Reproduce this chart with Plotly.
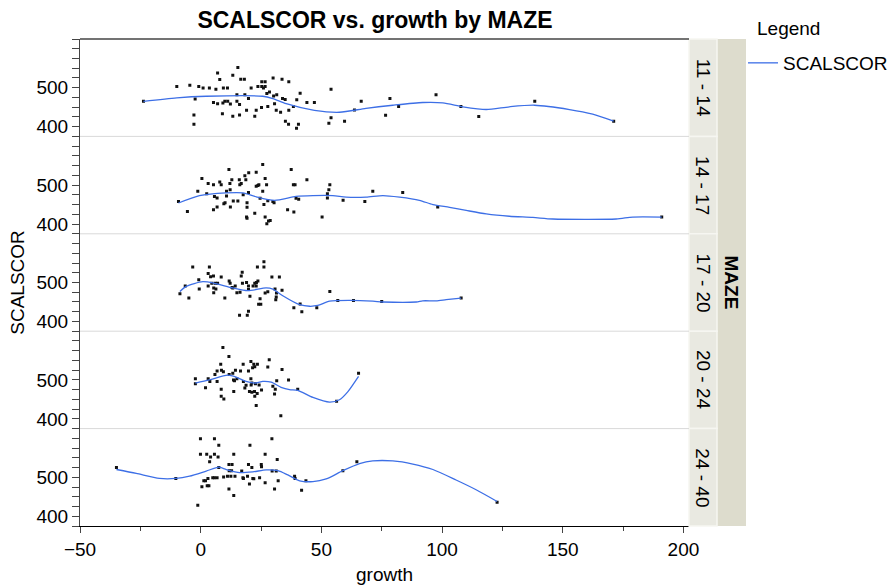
import plotly.graph_objects as go
from plotly.subplots import make_subplots

maze_levels = ["11 - 14", "14 - 17", "17 - 20", "20 - 24", "24 - 40"]

# ---- MAZE 11 - 14
g1_growth = [-23.7, -9.9, -4.5, -0.8, 1.0, 3.6, 6.3, 7.0, 7.9, 9.4, 11.1, 13.3, 15.4, 16.6, 18.1, 20.9, 23.7, 25.3, 26.7, 25.3,
             26.7, 26.0, 30.0, 33.7, 36.5, 27.4, 28.5, 30.2, 31.5, 33.9, 35.0, 41.2, 39.8, 44.0, 47.1, 54.0, 53.1, 54.0, 59.6, 63.7,
             66.5, 76.6, 78.4, 82.0, 97.5, 107.8, 115.2, 138.4, 171.1, -2.3, -2.8, -2.8, 5.3, 7.0, 9.2, 10.0, 11.2, 12.3, 15.0, 15.0,
             16.1, 18.3, 19.8, 19.0, 23.0, 25.2, 27.8, 30.6, 31.3, 33.1, 36.5, 38.4, 9.0, 13.3, 16.1, 22.4, 35.1, 36.4, 40.5, 39.7]
g1_scalscor = [465, 503, 506, 503, 499, 499, 496, 538, 521, 499, 499, 532, 552, 522, 522, 499, 503, 515, 515, 503,
               503, 499, 525, 522, 515, 485, 489, 479, 482, 472, 470, 486, 469, 462, 462, 496, 409, 423, 414, 443,
               465, 429, 472, 452, 482, 452, 426, 465, 414, 471, 430, 406, 462, 459, 461, 465, 465, 458, 482, 465,
               457, 482, 472, 442, 442, 449, 452, 459, 442, 437, 442, 452, 433, 427, 430, 427, 414, 406, 406, 396]
fit1_growth = [-23.7, -9.9, 2.3, 25.7, 29.9, 35.4, 47.1, 57.5, 68.5, 79.6, 92.0, 100.3, 108.6, 118.3, 127.9, 138.3, 152.8, 162.4, 171.1]
fit1_scalscor = [465, 474, 478, 478, 472, 459, 442, 437, 447, 455, 462, 461, 451, 444, 451, 455, 444, 432, 414]

# ---- MAZE 14 - 17
g2_growth = [-9.2, -5.5, -1.2, 0.5, 2.5, 3.1, 5.3, 5.3, 6.8, 5.7, 6.8, 7.9, 8.5, 9.6, 10.1, 10.7, 10.7, 11.7, 12.1, 12.2,
             12.3, 12.9, 13.5, 15.4, 16.0, 16.2, 16.8, 17.6, 18.3, 18.7, 19.0, 19.2, 19.2, 19.2, 19.9, 19.8, 22.4, 23.0, 23.0, 23.7,
             24.1, 24.6, 25.7, 25.7, 26.2, 26.7, 27.3, 26.7, 27.4, 28.1, 28.8, 27.8, 29.9, 30.4, 36.0, 37.5, 38.4, 39.1, 38.6, 39.5,
             40.6, 44.0, 50.3, 52.5, 52.5, 53.1, 53.5, 59.0, 68.0, 71.3, 83.7, 98.2, 191.0]
g2_scalscor = [458, 432, 484, 517, 478, 504, 501, 437, 444, 471, 467, 508, 501, 452, 455, 472, 484, 540, 504, 488,
               444, 514, 459, 459, 514, 501, 504, 475, 524, 514, 418, 415, 455, 443, 532, 481, 428, 533, 497, 499,
               501, 466, 553, 484, 450, 517, 501, 418, 401, 408, 409, 460, 458, 455, 437, 540, 501, 501, 431, 466,
               464, 514, 418, 478, 467, 488, 501, 461, 458, 484, 481, 444, 418]
fit2_growth = [-9.2, -0.5, 10.5, 17.5, 23.0, 30.6, 39.5, 46.5, 54.7, 60.3, 68.5, 75.5, 82.4, 90.6, 96.2, 103.1, 110.0, 118.3,
               127.9, 137.6, 145.9, 172.1, 179.0, 191.0]
fit2_scalscor = [454, 473, 480, 480, 470, 461, 471, 473, 473, 469, 469, 473, 469, 461, 450, 443, 435, 426, 420, 417, 413, 413, 418, 418]

# ---- MAZE 17 - 20
g3_growth = [-8.6, -6.4, -4.9, -3.3, -0.8, -0.6, 3.1, 3.6, 3.1, 4.1, 5.3, 4.6, 6.0, 5.4, 6.3, 7.0, 5.4, 8.5, 10.0, 11.8,
             12.2, 13.0, 13.3, 14.3, 15.0, 16.3, 16.8, 17.2, 17.3, 16.1, 19.3, 19.8, 19.0, 19.8, 19.8, 20.4, 21.7, 22.4, 23.1, 23.0,
             23.7, 23.5, 26.2, 26.2, 24.6, 24.0, 24.9, 26.7, 27.8, 29.5, 32.6, 30.8, 31.4, 31.3, 31.1, 33.7, 38.6, 41.2, 41.9, 48.1,
             53.5, 56.8, 63.3, 75.0, 107.9]
g3_scalscor = [471, 491, 460, 540, 507, 483, 523, 540, 491, 515, 517, 498, 498, 486, 483, 498, 474, 514, 460, 504,
               498, 487, 486, 491, 474, 475, 517, 526, 498, 416, 416, 426, 500, 491, 482, 465, 491, 498, 500, 491,
               504, 540, 540, 553, 458, 444, 444, 473, 476, 514, 514, 483, 473, 463, 456, 480, 435, 445, 425, 435,
               477, 454, 454, 451, 460]
fit3_growth = [-8.6, -6.0, 0.9, 5.7, 13.3, 19.5, 27.1, 29.9, 34.0, 41.0, 45.1, 48.5, 53.4, 61.6, 71.3, 75.5, 89.3, 92.0, 97.5, 101.7, 107.9]
fit3_scalscor = [477, 490, 502, 498, 486, 479, 486, 483, 466, 443, 439, 441, 452, 454, 452, 450, 450, 453, 453, 456, 460]

# ---- MAZE 20 - 24
g4_growth = [-2.2, -2.2, 2.0, 3.1, 3.8, 5.9, 6.8, 6.8, 8.3, 8.6, 9.4, 8.5, 8.5, 9.6, 9.2, 11.7, 11.8, 13.3, 13.6, 14.0,
             15.0, 13.7, 14.4, 16.5, 17.6, 17.7, 18.3, 18.8, 19.8, 20.8, 20.8, 20.9, 21.5, 22.0, 22.4, 23.5, 21.2, 22.7, 24.2, 20.2,
             21.2, 22.3, 23.4, 22.4, 25.2, 23.0, 27.8, 28.4, 29.9, 30.9, 30.6, 31.5, 33.7, 36.4, 33.2, 40.2, 56.3, 65.4]
g4_scalscor = [503, 490, 480, 503, 496, 514, 496, 523, 540, 525, 521, 476, 458, 451, 583, 560, 514, 517, 500, 498,
               503, 470, 525, 523, 540, 496, 479, 486, 523, 547, 503, 487, 531, 540, 534, 540, 492, 490, 487, 470,
               468, 470, 465, 458, 474, 434, 533, 552, 484, 476, 464, 498, 527, 500, 408, 476, 445, 517]
fit4_growth = [-2.2, 3.6, 11.2, 14.7, 18.8, 23.0, 25.7, 29.2, 33.3, 36.8, 40.2, 46.5, 53.4, 57.5, 61.0, 65.4]
fit4_scalscor = [492, 500, 512, 507, 496, 492, 496, 494, 481, 475, 473, 455, 443, 449, 470, 509]

# ---- MAZE 24 - 40
g5_growth = [-34.9, -10.3, -1.2, -0.1, 5.7, -0.1, 2.5, 4.1, 5.7, 7.5, 7.2, 3.7, 7.5, 1.3, 2.0, 0.5, 2.7, 3.4, 3.0, 5.0,
             5.7, 6.8, 9.5, 11.1, 12.5, 14.2, 11.7, 13.0, 11.8, 12.8, 13.7, 11.7, 13.7, 17.0, 17.5, 17.7, 19.4, 19.8, 20.4, 21.2,
             21.6, 22.0, 20.2, 24.4, 25.1, 25.2, 26.7, 26.7, 29.5, 29.6, 30.6, 31.3, 31.7, 32.1, 38.9, 39.1, 41.8, 43.6, 58.9, 64.7,
             122.8]
g5_scalscor = [525, 497, 428, 599, 599, 559, 559, 552, 559, 582, 552, 540, 525, 491, 491, 476, 478, 478, 497, 499,
               499, 499, 501, 503, 503, 503, 533, 533, 517, 517, 559, 470, 453, 516, 499, 497, 503, 533, 582, 525,
               497, 496, 483, 499, 533, 527, 559, 486, 599, 516, 470, 516, 546, 491, 503, 497, 467, 491, 517, 540,
               436]
fit5_growth = [-34.9, -26.7, -17.1, -10.2, -4.6, 2.3, 7.5, 10.6, 16.1, 21.6, 27.1, 32.0, 36.1, 41.0, 46.5, 52.0, 58.9, 65.8,
               71.3, 79.6, 87.9, 96.2, 105.8, 114.1, 122.8]
fit5_scalscor = [520, 510, 497, 497, 503, 516, 526, 520, 512, 514, 519, 517, 506, 491, 489, 496, 517, 535, 542, 542, 534,
                 520, 493, 468, 438]

y_tick_values = [375, 400, 425, 450, 475, 500, 525, 550, 575, 600, 625]
y_tick_labels = ["", "400", "", "", "", "500", "", "", "", "", ""]
x_range = [-50, 202.3]
y_range = [375, 625]

points = [(g1_growth, g1_scalscor), (g2_growth, g2_scalscor), (g3_growth, g3_scalscor),
          (g4_growth, g4_scalscor), (g5_growth, g5_scalscor)]
fits = [(fit1_growth, fit1_scalscor), (fit2_growth, fit2_scalscor), (fit3_growth, fit3_scalscor),
        (fit4_growth, fit4_scalscor), (fit5_growth, fit5_scalscor)]

FONT = "Liberation Sans, Arial, Helvetica, sans-serif"
BLUE = "#3d6fe6"
AXC = "#444444"
PW = 609.0   # plot width in px
PH = 487.0   # plot height in px

fig = make_subplots(rows=5, cols=1, shared_xaxes=True, vertical_spacing=0)

for i in range(5):
    gx, gy = points[i]
    fx, fy = fits[i]
    fig.add_trace(go.Scatter(x=gx, y=gy, mode="markers", showlegend=False, name="data",
                             marker=dict(symbol="square", size=3, color="#111111")), row=i + 1, col=1)
    fig.add_trace(go.Scatter(x=fx, y=fy, mode="lines", name="SCALSCOR", legendgroup="fit",
                             showlegend=(i == 0), line=dict(color=BLUE, width=1.3, shape="spline", smoothing=0.7)),
                  row=i + 1, col=1)

for i in range(5):
    fig.update_yaxes(row=i + 1, col=1, range=y_range, tickmode="array", tickvals=y_tick_values,
                     ticktext=y_tick_labels, ticks="outside", ticklen=7, tickwidth=1, tickcolor=AXC,
                     showline=True, linecolor=AXC, linewidth=1, showgrid=False, zeroline=False,
                     automargin=False,
                     tickfont=dict(family=FONT, size=19, color="black"))
    last = (i == 4)
    fig.update_xaxes(row=i + 1, col=1, range=x_range, showgrid=False, zeroline=False,
                     showline=last, linecolor="black", linewidth=1,
                     ticks="outside" if last else "", showticklabels=last,
                     tickmode="linear", tick0=0, dtick=50, ticklen=6, tickcolor=AXC,
                     automargin=False,
                     minor=dict(dtick=25, ticks="outside" if last else "", ticklen=4, tickcolor=AXC),
                     tickfont=dict(family=FONT, size=19, color="black"))

fig.update_xaxes(row=5, col=1, title=dict(text="growth", font=dict(family=FONT, size=19, color="black"), standoff=8))
fig.update_yaxes(row=3, col=1, title=dict(text="SCALSCOR", font=dict(family=FONT, size=19, color="black"), standoff=6))

shapes = []
# outer strip (MAZE)
shapes.append(dict(type="rect", xref="paper", yref="paper", x0=1.0, x1=(746 - 80) / PW, y0=0, y1=1,
                   fillcolor="#dddccd", line=dict(width=0), layer="below"))
annotations = []
for i in range(5):
    y1 = 1 - i / 5
    y0 = 1 - (i + 1) / 5
    shapes.append(dict(type="rect", xref="paper", yref="paper", x0=1.0, x1=(717 - 80) / PW, y0=y0, y1=y1,
                       fillcolor="#e9e9e1", line=dict(color="#f6f6f1", width=1.5)))
    annotations.append(dict(xref="paper", yref="paper", x=(703 - 80) / PW, y=(y0 + y1) / 2,
                            xanchor="center", yanchor="middle",
                            text=maze_levels[i], textangle=90, showarrow=False,
                            font=dict(family=FONT, size=19, color="black")))
    if i > 0:
        shapes.append(dict(type="line", xref="paper", yref="paper", x0=0, x1=1, y0=y1, y1=y1,
                           line=dict(color="#d9d9d9", width=1)))
# top border
shapes.append(dict(type="line", xref="paper", yref="paper", x0=0, x1=1, y0=1, y1=1,
                   line=dict(color=AXC, width=1.5)))
annotations.append(dict(xref="paper", yref="paper", x=(731 - 80) / PW, y=0.5, text="<b>MAZE</b>",
                        xanchor="center", yanchor="middle",
                        textangle=90, showarrow=False, font=dict(family=FONT, size=19, color="black")))
# legend heading
annotations.append(dict(xref="paper", yref="paper", x=(755 - 80) / PW, y=(526 - 28) / PH, text="Legend",
                        xanchor="left", yanchor="middle", showarrow=False,
                        font=dict(family=FONT, size=19, color="black")))

fig.update_layout(
    width=890, height=587,
    margin=dict(l=80, r=201, t=39, b=61, autoexpand=False),
    plot_bgcolor="white", paper_bgcolor="white",
    font=dict(family=FONT, size=19, color="black"),
    title=dict(text="<b>SCALSCOR vs. growth by MAZE</b>", x=(375 - 80) / PW, xref="paper", xanchor="center",
               y=1 - 20 / 587, yref="container", yanchor="middle",
               font=dict(family=FONT, size=23, color="black")),
    showlegend=True,
    legend=dict(x=(743 - 80) / PW, y=(526 - 44) / PH, xanchor="left", yanchor="top",
                font=dict(family=FONT, size=19, color="black"), bgcolor="rgba(0,0,0,0)",
                itemwidth=30),
    shapes=shapes,
    annotations=annotations,
)

fig.write_html("out.html", config={"displayModeBar": False},
               post_script="document.body.style.margin='0';")
